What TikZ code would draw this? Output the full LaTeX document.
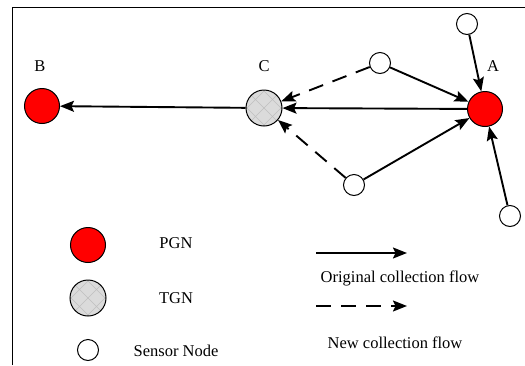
\documentclass[tikz,border=0pt]{standalone}
\usepackage{fontspec}
\setmainfont{Liberation Serif}
\usetikzlibrary{arrows.meta}

\tikzset{
  pgn/.style={circle, draw, line width=1pt, fill=red, minimum size=35pt, inner sep=0pt},
  tgn/.style={circle, draw, line width=1pt, fill=gray!28, minimum size=36pt, inner sep=0pt,
    path picture={
      \foreach \k in {-34,-17,...,34} {
        \draw[gray!50, line width=0.6pt] ([xshift=\k pt]path picture bounding box.center) ++(-20pt,-20pt) -- ++(40pt,40pt);
        \draw[gray!50, line width=0.6pt] ([xshift=\k pt]path picture bounding box.center) ++(-20pt,20pt) -- ++(40pt,-40pt);
      }}},
  sensor/.style={circle, draw, line width=1pt, fill=white, minimum size=21pt, inner sep=0pt},
  flow/.style={line width=1.9pt, -{Stealth[length=14pt, width=11pt, inset=2.5pt]}},
  newflow/.style={flow, dash pattern=on 15pt off 10pt},
  txt/.style={font=\fontsize{16.5}{19}\selectfont}
}

\begin{document}
\begin{tikzpicture}[x=1pt,y=-1pt]
\useasboundingbox (0,0) rectangle (525,365);

% frame
\draw[line width=0.9pt] (12,365) -- (12,7) -- (525,7);

% gateways
\node (B) at (42,106) [pgn] {};
\node (C) at (264,108) [tgn] {};
\node (A) at (485,109) [pgn] {};
\node (lblB) at (40,66) [txt] {B};
\node (lblC) at (264,66) [txt] {C};
\node (lblA) at (493,66) [txt] {A};

% sensor nodes
\node (s1) at (467,24) [sensor] {};
\node (s2) at (380,63) [sensor] {};
\node (s3) at (354,185) [sensor] {};
\node (s4) at (510,216) [sensor] {};

% original collection
\draw[flow] (A) -- (C);
\draw[flow] (C) -- (B);
\draw[flow] (s1) -- (A);
\draw[flow] (s2) -- (A);
\draw[flow] (s3) -- (A);
\draw[flow] (s4) -- (A);

% new collection
\draw[newflow] (s2) -- (C);
\draw[newflow] (s3) -- (C);

% legend
\node (legP) at (88,245) [pgn] {};
\node (legT) at (88,298) [tgn] {};
\node (legS) at (88,350) [sensor] {};
\node (txtP) at (176,243) [txt] {PGN};
\node (txtT) at (176,298) [txt] {TGN};
\node (txtS) at (176,351) [txt] {Sensor Node};

\coordinate (o1) at (316,253);
\coordinate (o2) at (407,253);
\coordinate (n1) at (316,306);
\coordinate (n2) at (407,306);
\draw[flow] (o1) -- (o2);
\draw[newflow] (n1) -- (n2);
\node (txtO) at (400,278) [txt] {Original collection flow};
\node (txtN) at (395,343) [txt] {New collection flow};

\end{tikzpicture}
\end{document}
